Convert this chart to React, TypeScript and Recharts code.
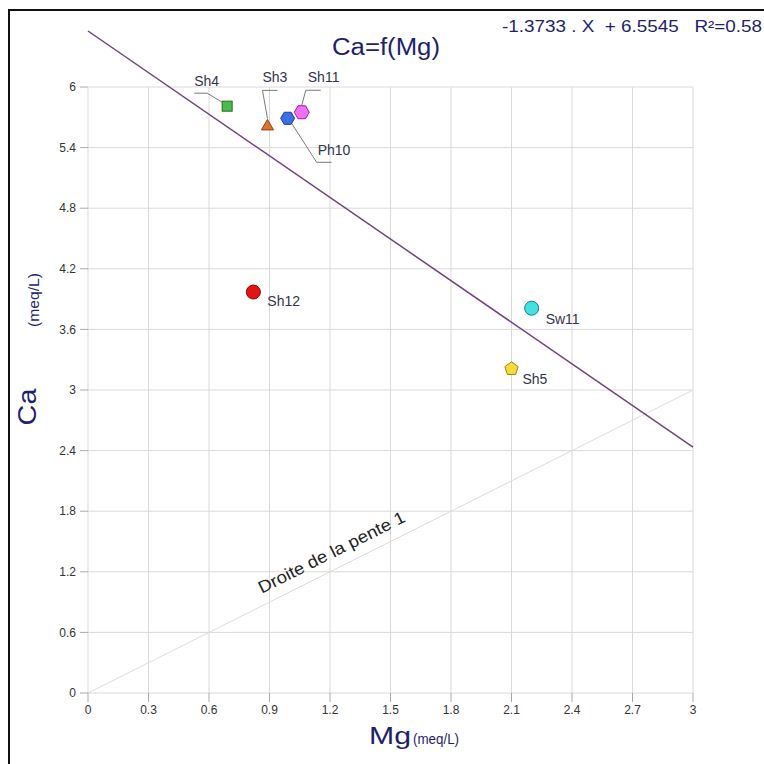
import React from "react";
import { ScatterChart, Scatter, XAxis, YAxis, CartesianGrid, ReferenceLine } from "recharts";

// samples: Mg on x, Ca on y (meq/L)
const sampleNames = ["Sh4", "Sh3", "Ph10", "Sh11", "Sh12", "Sw11", "Sh5"];
const mgValues = [0.69, 0.89, 0.99, 1.06, 0.82, 2.2, 2.1];
const caValues = [5.81, 5.62, 5.69, 5.75, 3.97, 3.81, 3.21];

const xTicks = [0, 0.3, 0.6, 0.9, 1.2, 1.5, 1.8, 2.1, 2.4, 2.7, 3];
const yTicks = [0, 0.6, 1.2, 1.8, 2.4, 3, 3.6, 4.2, 4.8, 5.4, 6];

// regression Ca = a.Mg + b
const slope = -1.3733;
const intercept = 6.5545;
const r2 = 0.58;

const points = sampleNames.map((name, i) => ({ name, mg: mgValues[i], ca: caValues[i] }));

const FONT = "'Liberation Sans', Arial, sans-serif";
const NAVY = "#1f1f6b";
const LABEL_COLOR = "#33334d";

type MarkerDef = {
  kind: "square" | "triangle" | "hexagon" | "circle" | "pentagon";
  fill: string;
  stroke: string;
  r: number;
  label: [number, number];
  leader?: [number, number][];
};

const markers: Record<string, MarkerDef> = {
  Sh4: { kind: "square", fill: "#4cbb4c", stroke: "#1e6e1e", r: 5, label: [-33, -20], leader: [[-33, -13], [-20, -13], [-5, -4]] },
  Sh3: { kind: "triangle", fill: "#d8742e", stroke: "#8a3f12", r: 7, label: [-5, -43], leader: [[10, -35], [-5, -35], [0, -7]] },
  Ph10: { kind: "hexagon", fill: "#3d6ee6", stroke: "#1c3d9e", r: 7, label: [30, 37], leader: [[4, 5], [29, 44], [44, 44]] },
  Sh11: { kind: "hexagon", fill: "#f070f0", stroke: "#9c1f9c", r: 7.5, label: [6, -30], leader: [[19, -22], [4, -22], [0, -7]] },
  Sh12: { kind: "circle", fill: "#e01515", stroke: "#9c0000", r: 7, label: [14, 14] },
  Sw11: { kind: "circle", fill: "#45e0e0", stroke: "#138080", r: 7, label: [14, 16] },
  Sh5: { kind: "pentagon", fill: "#f5dc3c", stroke: "#9a8410", r: 7, label: [11, 15] },
};

const polygon = (cx: number, cy: number, r: number, n: number, start: number) =>
  Array.from({ length: n }, (_, k) => {
    const a = start + (k * 2 * Math.PI) / n;
    return `${cx + r * Math.cos(a)},${cy + r * Math.sin(a)}`;
  }).join(" ");

const SampleMarker = (props: any) => {
  const { cx, cy, payload } = props;
  const m = markers[payload.name];
  if (!m || cx == null || cy == null) return null;
  let mark: React.ReactNode;
  if (m.kind === "square") {
    mark = <rect x={cx - m.r} y={cy - m.r} width={m.r * 2} height={m.r * 2} fill={m.fill} stroke={m.stroke} />;
  } else if (m.kind === "triangle") {
    mark = <polygon points={polygon(cx, cy + 1, m.r, 3, -Math.PI / 2)} fill={m.fill} stroke={m.stroke} />;
  } else if (m.kind === "hexagon") {
    mark = <polygon points={polygon(cx, cy, m.r, 6, 0)} fill={m.fill} stroke={m.stroke} />;
  } else if (m.kind === "pentagon") {
    mark = <polygon points={polygon(cx, cy, m.r, 5, -Math.PI / 2)} fill={m.fill} stroke={m.stroke} />;
  } else {
    mark = <circle cx={cx} cy={cy} r={m.r} fill={m.fill} stroke={m.stroke} />;
  }
  return (
    <g>
      {m.leader && (
        <polyline
          points={m.leader.map(([dx, dy]) => `${cx + dx},${cy + dy}`).join(" ")}
          fill="none"
          stroke="#7a7a7a"
          strokeWidth={1}
        />
      )}
      {mark}
      <text x={cx + m.label[0]} y={cy + m.label[1]} fontSize={14} fontFamily={FONT} fill={LABEL_COLOR}>
        {payload.name}
      </text>
    </g>
  );
};

const SlopeLabel = (props: any) => {
  const vb = props.viewBox || {};
  let x1: number, y1: number, x2: number, y2: number;
  if (vb.x1 != null) {
    ({ x1, y1, x2, y2 } = vb);
  } else {
    x1 = vb.x;
    y1 = vb.y + vb.height;
    x2 = vb.x + vb.width;
    y2 = vb.y;
  }
  const t = 0.415;
  const px = x1 + (x2 - x1) * t;
  const py = y1 + (y2 - y1) * t;
  const len = Math.hypot(x2 - x1, y2 - y1);
  const nx = (y2 - y1) / len;
  const ny = -(x2 - x1) / len;
  const angle = (Math.atan2(y2 - y1, x2 - x1) * 180) / Math.PI;
  const tx = px + nx * 11;
  const ty = py + ny * 11;
  return (
    <text
      x={tx}
      y={ty}
      textAnchor="middle"
      fontSize={17}
      fontFamily={FONT}
      fill="#222"
      textLength={162}
      lengthAdjust="spacingAndGlyphs"
      transform={`rotate(${angle} ${tx} ${ty})`}
    >
      Droite de la pente 1
    </text>
  );
};

export default function App() {
  return (
    <div style={{ position: "absolute", left: 0, top: 0, width: 764, height: 764, overflow: "hidden", background: "#fff" }}>
      <div style={{ position: "absolute", left: 8, top: 9, width: 900, height: 900, border: "2px solid #111" }} />
      <ScatterChart
        width={764}
        height={764}
        margin={{ top: 87, right: 71, bottom: 41, left: 28 }}
        style={{ position: "absolute", left: 0, top: 0 }}
      >
        <CartesianGrid stroke="#d9d9d9" />
        <XAxis
          type="number"
          dataKey="mg"
          domain={[0, 3]}
          ticks={xTicks}
          height={30}
          axisLine={false}
          tickLine={{ stroke: "#aaa" }}
          tickSize={9}
          tickMargin={3}
          tick={{ fontSize: 12, fill: "#333", fontFamily: FONT }}
          interval={0}
        />
        <YAxis
          type="number"
          dataKey="ca"
          domain={[0, 6]}
          ticks={yTicks}
          width={60}
          axisLine={false}
          tickLine={{ stroke: "#aaa" }}
          tickSize={8}
          tickMargin={4}
          tick={{ fontSize: 12, fill: "#333", fontFamily: FONT }}
          interval={0}
        />
        <ReferenceLine
          segment={[{ x: 0, y: 0 }, { x: 3, y: 3 }]}
          stroke="#dcdcdc"
          strokeWidth={1}
          ifOverflow="visible"
          label={<SlopeLabel />}
        />
        <ReferenceLine
          segment={[{ x: 0, y: intercept }, { x: 3, y: slope * 3 + intercept }]}
          stroke="#74407f"
          strokeWidth={1.5}
          ifOverflow="visible"
        />
        <Scatter data={points} shape={<SampleMarker />} isAnimationActive={false} />
      </ScatterChart>
      <svg width={764} height={764} style={{ position: "absolute", left: 0, top: 0, pointerEvents: "none" }}>
        <text
          x={502}
          y={32}
          fontSize={16}
          fontFamily={FONT}
          fill={NAVY}
          textLength={260}
          lengthAdjust="spacingAndGlyphs"
          style={{ whiteSpace: "pre" }}
        >
          {`${slope} . X  + ${intercept}   R²=${r2}`}
        </text>
        <text x={332} y={55} fontSize={23} fontFamily={FONT} fill={NAVY} textLength={108} lengthAdjust="spacingAndGlyphs">
          Ca=f(Mg)
        </text>
        <text x={369} y={744} fontSize={24} fontFamily={FONT} fill={NAVY} textLength={42} lengthAdjust="spacingAndGlyphs">
          Mg
        </text>
        <text x={413} y={744} fontSize={14} fontFamily={FONT} fill={NAVY} textLength={46} lengthAdjust="spacingAndGlyphs">
          (meq/L)
        </text>
        <text
          x={36}
          y={407}
          fontSize={26}
          fontFamily={FONT}
          fill={NAVY}
          textAnchor="middle"
          textLength={37}
          lengthAdjust="spacingAndGlyphs"
          transform="rotate(-90 36 407)"
        >
          Ca
        </text>
        <text
          x={39}
          y={300}
          fontSize={14}
          fontFamily={FONT}
          fill={NAVY}
          textAnchor="middle"
          textLength={54}
          lengthAdjust="spacingAndGlyphs"
          transform="rotate(-90 39 300)"
        >
          (meq/L)
        </text>
      </svg>
    </div>
  );
}
